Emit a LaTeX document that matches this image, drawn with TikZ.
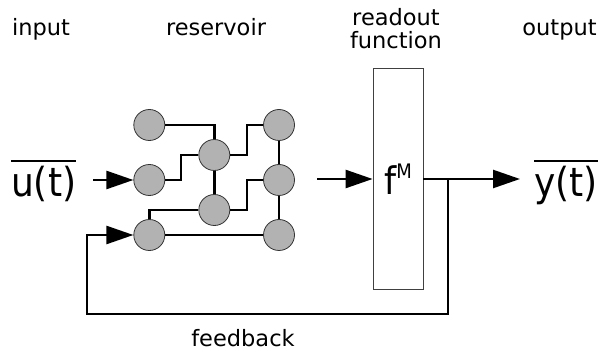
\documentclass[tikz,border=0pt]{standalone}
\usepackage{fontspec}
\setmainfont{DejaVu Sans Condensed}
\newfontfamily\lblfont{DejaVu Sans}
\usetikzlibrary{arrows.meta,calc}
\newcommand{\ovltext}[1]{\vbox{\hrule height 2pt\kern 4pt\hbox{#1}}}
\begin{document}
\begin{tikzpicture}[x=1pt,y=-1pt,
  neuron/.style={circle,draw=black!80,fill=black!30,minimum size=31pt,inner sep=0pt,line width=0.8pt},
  conn/.style={line width=2.5pt},
  arr/.style={conn,-{Triangle[length=27pt,width=18pt]}},
  lbl/.style={font=\lblfont\fontsize{22.5}{23.3}\selectfont,inner sep=0pt},
  big/.style={font=\fontsize{40}{40}\selectfont,inner sep=0pt},
  readout/.style={draw=black!75,line width=0.8pt,minimum width=50pt,minimum height=221pt,inner sep=0pt}]
\useasboundingbox (0,0) rectangle (600,352);
% labels
\node[lbl,anchor=base] (linput) at (41,36) {input};
\node[lbl,anchor=base] (lres) at (216,36) {reservoir};
\node[lbl,anchor=north,align=center] (lread) at (396,8) {readout\\function};
\node[lbl,anchor=base] (lout) at (559.5,36) {output};
\node[lbl,anchor=base] (lfb) at (243,347) {feedback};
% input/output texts
\node[big,anchor=base west] (u) at (11,196.5) {\ovltext{u(t)}};
\node[big,anchor=base east] (y) at (598,196.5) {\ovltext{y(t)}};
% neurons
\node[neuron] (A) at (149.3,125) {};
\node[neuron] (B) at (149.3,180) {};
\node[neuron] (C) at (149.3,235) {};
\node[neuron] (D) at (214.3,155) {};
\node[neuron] (E) at (214.3,210) {};
\node[neuron] (F) at (279,125) {};
\node[neuron] (G) at (279,180) {};
\node[neuron] (H) at (279,235) {};
% readout box
\node[readout] (R) at (398,178.8) {{\fontsize{38}{38}\selectfont f}\raisebox{16pt}{\fontsize{20}{20}\selectfont M}};
% reservoir connections
\draw[conn] (A) -| (D);
\draw[conn] (B.east) -- ++(16,0) |- (D.west);
\draw[conn] (D.east) -- ++(17,0) |- (F.west);
\draw[conn] (E.east) -- ++(17,0) |- (G.west);
\draw[conn] (C.north) |- (E.west);
\draw[conn] (C) -- (H);
\draw[conn] (D) -- (E);
\draw[conn] (F) -- (G);
\draw[conn] (G) -- (H);
% arrows
\coordinate (inS) at (93,180);
\draw[arr] (inS) -- (B);
\coordinate (rS) at (317,179);
\draw[arr] (rS) -- (rS -| R.west);
\coordinate (oE) at (520,179);
\draw[arr] (oE -| R.east) -- (oE);
\coordinate (fb) at (448,179);
\coordinate (fbB) at (87,314);
\draw[arr] (fb) |- (fbB) |- (C.west);
\end{tikzpicture}
\end{document}
